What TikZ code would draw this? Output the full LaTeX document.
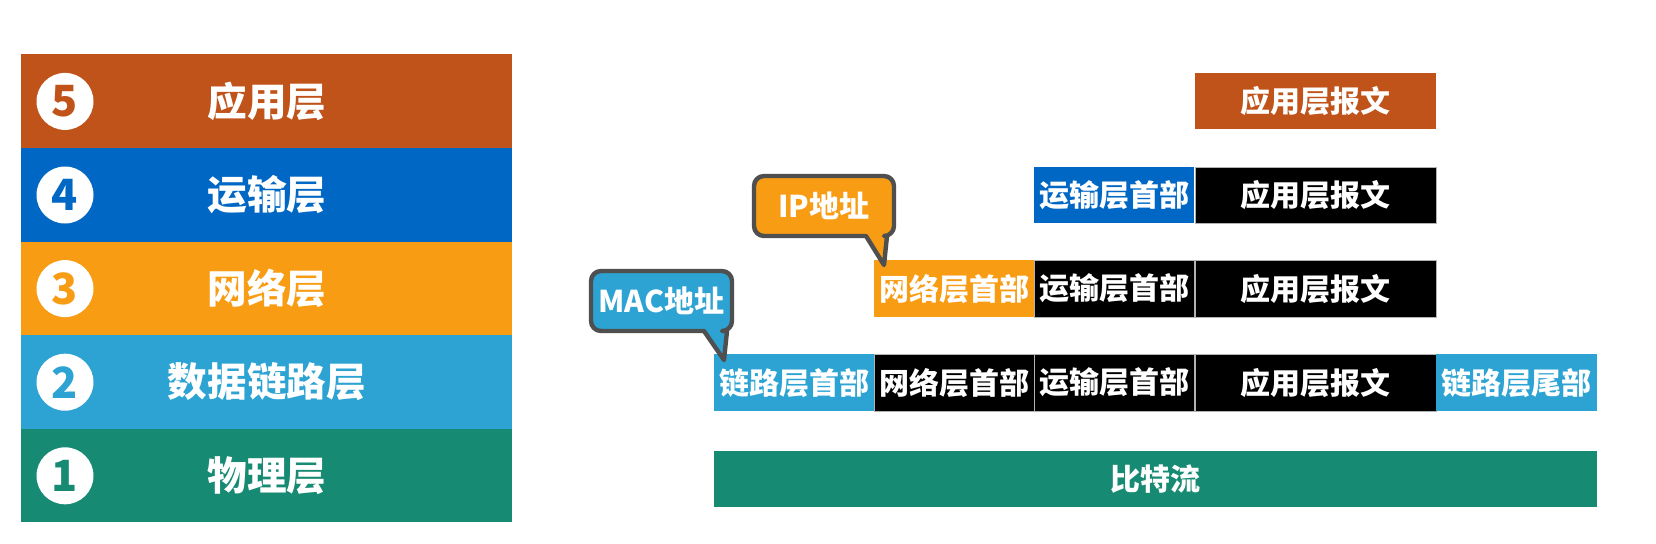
\documentclass[tikz,border=0pt]{standalone}
\usepackage{fontspec}
\setmainfont{Noto Sans CJK SC}
\definecolor{appc}{HTML}{C0531A}
\definecolor{trac}{HTML}{0068C4}
\definecolor{netc}{HTML}{F89C14}
\definecolor{linkc}{HTML}{2CA3D2}
\definecolor{phyc}{HTML}{168A72}
\definecolor{callb}{HTML}{4F4F4F}
\begin{document}
\begin{tikzpicture}[x=0.5pt,y=-0.5pt,
  layer/.style={minimum width=245.5pt, minimum height=46.8pt, anchor=north west, inner sep=0pt, text=white, font=\bfseries\fontsize{19.8}{20}\selectfont},
  num/.style={circle, fill=white, minimum size=28.5pt, inner sep=0pt, font=\bfseries\fontsize{21.5}{22}\selectfont},
  cell/.style={minimum height=28.25pt, anchor=north west, inner sep=0pt, text=white, font=\bfseries\fontsize{15}{16}\selectfont},
  hdr/.style={cell, minimum width=80pt},
  msg/.style={cell, minimum width=120.5pt, fill=black, draw=gray!60, line width=0.4pt},
  blk/.style={hdr, fill=black, draw=gray!60, line width=0.4pt},
  callout/.style={draw=callb, line width=2.2pt, line join=round},
  calltext/.style={text=white, inner sep=0pt, font=\bfseries\fontsize{15}{16}\selectfont}
]
\useasboundingbox (0,0) rectangle (1656,543);
\fill[white] (0,0) rectangle (1656,543);

% left stack
\node[layer, fill=appc]  (L5) at (21,54)    {应用层};
\node[layer, fill=trac]  (L4) at (21,147.6) {运输层};
\node[layer, fill=netc]  (L3) at (21,241.2) {网络层};
\node[layer, fill=linkc] (L2) at (21,334.8) {数据链路层};
\node[layer, fill=phyc]  (L1) at (21,428.4) {物理层};
\node[num, text=appc]  (n5) at (65,101.4) {5};
\node[num, text=trac]  (n4) at (65,195)   {4};
\node[num, text=netc]  (n3) at (65,288.6) {3};
\node[num, text=linkc] (n2) at (65,382.2) {2};
\node[num, text=phyc]  (n1) at (65,475.8) {1};

% row A
\node[cell, minimum width=120.5pt, fill=appc] (a1) at (1195,72.5) {应用层报文};
% row B
\node[hdr, fill=trac] (b1) at (1034,166.5) {运输层首部};
\node[msg] (b2) at (1195,166.5) {应用层报文};
% row C
\node[hdr, fill=netc] (c1) at (874,260) {网络层首部};
\node[blk] (c2) at (1034,260) {运输层首部};
\node[msg] (c3) at (1195,260) {应用层报文};
% row D
\node[hdr, fill=linkc] (d1) at (714,354) {链路层首部};
\node[blk] (d2) at (874,354) {网络层首部};
\node[blk] (d3) at (1034,354) {运输层首部};
\node[msg] (d4) at (1195,354) {应用层报文};
\node[hdr, fill=linkc, minimum width=80.5pt] (d5) at (1436,354) {链路层尾部};
% bit stream
\node[cell, fill=phyc, minimum width=441.5pt, minimum height=28pt] (bits) at (714,451) {比特流};

% IP callout
\draw[callout, fill=netc] (884,265) -- (866,236) [rounded corners=5pt] -- (754,236) -- (754,176) -- (894,176) -- (894,236) [sharp corners] -- (887,236) -- cycle;
\node[calltext] (ip) at (824,206) {IP地址};

% MAC callout
\draw[callout, fill=linkc] (724,360) -- (704,331) [rounded corners=5pt] -- (591,331) -- (591,271) -- (732,271) -- (732,331) [sharp corners] -- (727,331) -- cycle;
\node[calltext] (mac) at (661.5,301) {MAC地址};
\end{tikzpicture}
\end{document}
